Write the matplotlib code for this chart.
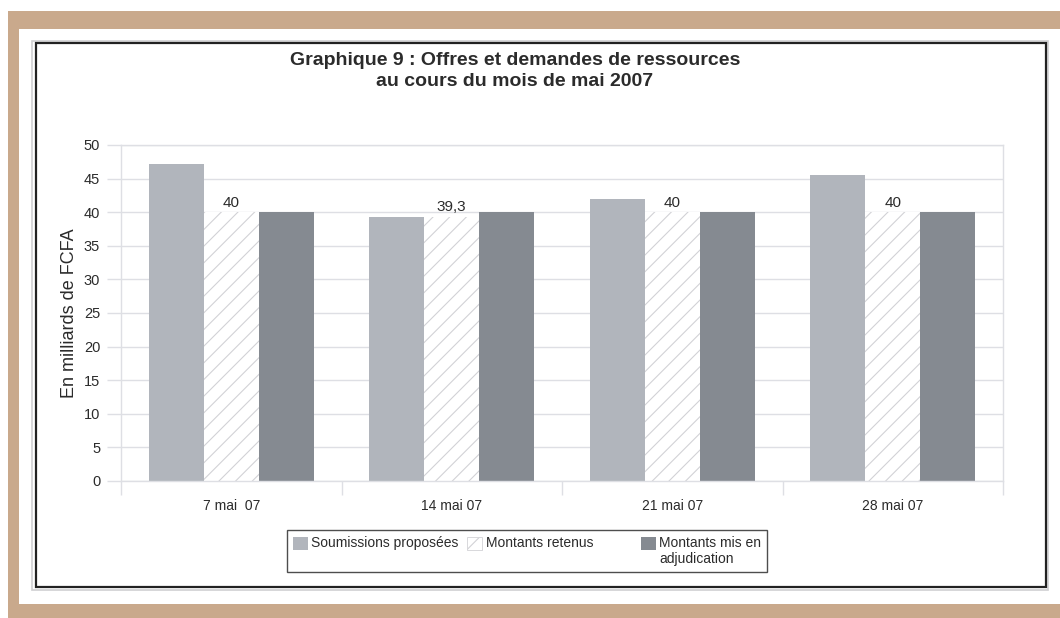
import matplotlib.pyplot as plt
import numpy as np
from matplotlib.legend_handler import HandlerPatch
from matplotlib.patches import Patch, Rectangle

plt.rcParams["font.family"] = ["Liberation Sans", "DejaVu Sans"]
plt.rcParams["hatch.linewidth"] = 0.8

# data
categories = ["7 mai  07", "14 mai 07", "21 mai 07", "28 mai 07"]
soumissions = [47.2, 39.3, 42.0, 45.6]
retenus = [40.0, 39.3, 40.0, 40.0]
adjudication = [40.0, 40.0, 40.0, 40.0]
retenus_labels = ["40", "39,3", "40", "40"]

# every label gets two lines so the first lines line up like the original
series_names = ["Soumissions proposées\n ", "Montants retenus          \n ",
                "Montants mis en\nadjudication"]

c_light = "#b1b5bc"
c_dark = "#858a91"
c_hatch = "#d2d2d6"
c_grid = "#dedfe4"
c_text = "#2b2b2b"

fig = plt.figure(figsize=(10.6, 6.18), dpi=100, facecolor="white")

W, H = 1060, 618


def px_rect(x0, y0, x1, y1, **kw):
    # rectangle given in image pixel coords (top-left origin)
    r = Rectangle((x0 / W, 1 - y1 / H), (x1 - x0) / W, (y1 - y0) / H,
                  transform=fig.transFigure, zorder=-5, **kw)
    fig.patches.append(r)


# tan frame
tan = "#c9a98c"
px_rect(8, 11, 1060, 29, facecolor=tan, edgecolor="none")
px_rect(8, 11, 19, 618, facecolor=tan, edgecolor="none")
px_rect(8, 604, 1060, 618, facecolor=tan, edgecolor="none")
# shadow and black border of the chart box
px_rect(32, 41, 1048, 590, facecolor="none", edgecolor="#cfcfd2", linewidth=1.2)
px_rect(36, 43, 1046, 587, facecolor="white", edgecolor="#222222", linewidth=1.6)

ax = fig.add_axes([121 / W, 1 - 481 / H, (1003 - 121) / W, (481 - 145) / H])
ax.patch.set_alpha(0)

x = np.arange(len(categories))
w = 0.25
ax.bar(x - w, soumissions, w, color=c_light, linewidth=0, zorder=2)
bars_ret = ax.bar(x, retenus, w, color="white", edgecolor=c_hatch, hatch="//",
                  linewidth=0, zorder=2)
ax.bar(x + w, adjudication, w, color=c_dark, linewidth=0, zorder=2)

for b, lab in zip(bars_ret, retenus_labels):
    ax.text(b.get_x() + b.get_width() / 2, b.get_height() + 0.4, lab,
            ha="center", va="bottom", fontsize=11, color=c_text, zorder=3)

ax.set_xlim(-0.5, len(categories) - 0.5)
ax.set_ylim(0, 50)
ax.set_yticks(np.arange(0, 51, 5))
ax.yaxis.grid(True, color=c_grid, linewidth=1)
ax.set_axisbelow(True)

ax.set_xticks(x)
ax.set_xticklabels(categories)
ax.set_xticks(np.arange(-0.5, len(categories), 1), minor=True)
ax.tick_params(axis="x", which="major", length=0, pad=13, labelsize=10, labelcolor=c_text)
ax.tick_params(axis="x", which="minor", length=10, width=1, color=c_grid)
ax.tick_params(axis="y", length=10, width=1, color=c_grid, labelsize=10.5,
               labelcolor=c_text, pad=5)

for s in ax.spines.values():
    s.set_color(c_grid)
    s.set_linewidth(1)

ax.set_ylabel("En milliards de FCFA", fontsize=13, color=c_text, labelpad=4)

fig.text(515 / W, 1 - 71 / H,
         "Graphique 9 : Offres et demandes de ressources\nau cours du mois de mai 2007",
         ha="center", va="center", fontsize=14, fontweight="bold", color=c_text,
         linespacing=1.3)


def top_patch(legend, orig_handle, xdescent, ydescent, width, height, fontsize):
    # put the swatch next to the first text line instead of the middle
    return Rectangle((-xdescent, -ydescent + 0.62 * fontsize), width, height)


handles = [
    Patch(facecolor=c_light, edgecolor="none"),
    Patch(facecolor="white", edgecolor=c_hatch, hatch="//", linewidth=0.6),
    Patch(facecolor=c_dark, edgecolor="none"),
]
leg = fig.legend(handles, series_names, loc="center", ncol=3,
                 bbox_to_anchor=(527 / W, 1 - 551 / H), fontsize=10,
                 frameon=True, fancybox=False, edgecolor="#222222",
                 handlelength=1.1, handleheight=1.1, handletextpad=0.25,
                 columnspacing=0.6, borderpad=0.4, labelspacing=0.2,
                 handler_map={Patch: HandlerPatch(patch_func=top_patch)})
leg.get_frame().set_linewidth(1)
for t in leg.get_texts():
    t.set_color(c_text)

fig.savefig("out.png", dpi=100, facecolor="white")
